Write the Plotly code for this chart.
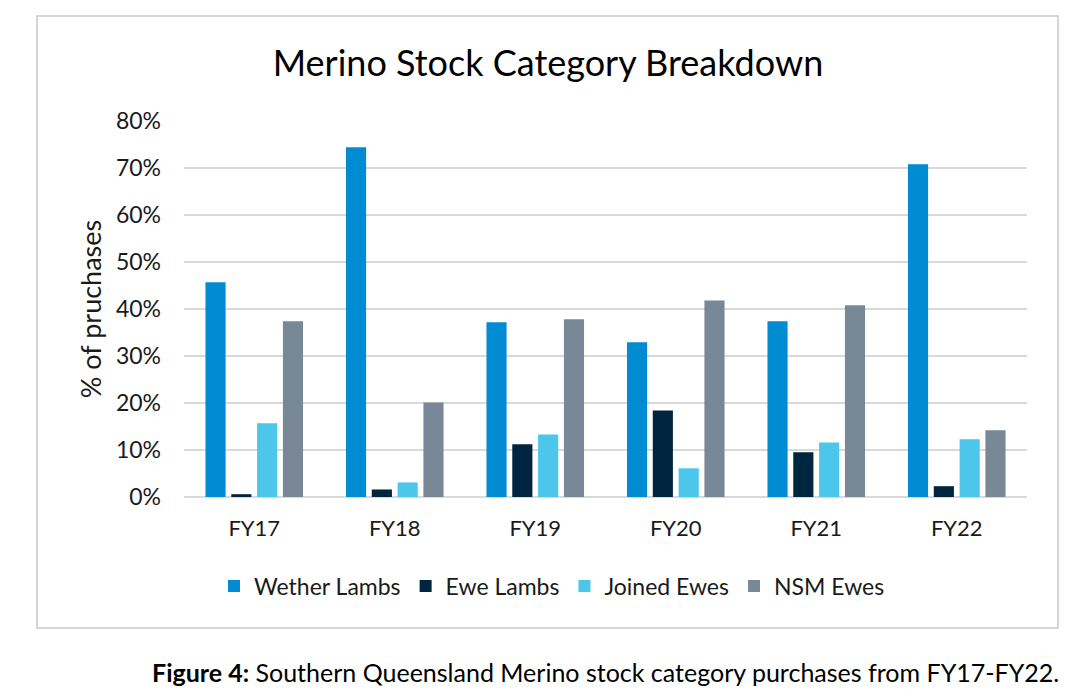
import plotly.graph_objects as go

categories = ["FY17", "FY18", "FY19", "FY20", "FY21", "FY22"]
wether_lambs = [45.7, 74.4, 37.2, 32.9, 37.4, 70.8]
ewe_lambs = [0.6, 1.6, 11.2, 18.4, 9.5, 2.3]
joined_ewes = [15.7, 3.1, 13.3, 6.1, 11.6, 12.3]
nsm_ewes = [37.4, 20.1, 37.8, 41.8, 40.8, 14.2]
y_ticks = [0, 10, 20, 30, 40, 50, 60, 70, 80]

series = [
    ("Wether Lambs", wether_lambs, "#008BD2"),
    ("Ewe Lambs", ewe_lambs, "#002541"),
    ("Joined Ewes", joined_ewes, "#4CC6EA"),
    ("NSM Ewes", nsm_ewes, "#788896"),
]

FONT = "Lato, 'Open Sans', sans-serif"

fig = go.Figure()
for name, vals, color in series:
    fig.add_trace(go.Bar(
        x=categories, y=vals, name=name,
        marker=dict(color=color, line=dict(width=0)),
    ))

# page has an 8px body margin; work in page pixels and shift
OFF = 8
W, H = 1088 - 2 * OFF, 697 - 2 * OFF
PL, PR, PT, PB = 184, 1027, 121, 497  # plot area in page pixels
L, T = PL - OFF, PT - OFF
R, B = W - (PR - OFF), H - (PB - OFF)
pw, ph = W - L - R, H - T - B

def px(x):
    return (x - OFF - L) / pw

def py(y):
    return (H - B - (y - OFF)) / ph

def cx(x):
    return (x - OFF) / W

def cy(y):
    return 1 - (y - OFF) / H

fig.update_layout(
    width=W, height=H,
    margin=dict(l=L, r=R, t=T, b=B),
    paper_bgcolor="white", plot_bgcolor="white",
    font=dict(family=FONT, color="#1a1a1a", size=22),
    barmode="group", bargap=0.265, bargroupgap=0.22,
    title=dict(text="Merino Stock Category Breakdown", x=cx(548), xanchor="center",
               xref="container", y=cy(63), yanchor="middle", yref="container",
               font=dict(size=36, family=FONT, color="#000000")),
    legend=dict(orientation="h", x=cx(552), xanchor="center", xref="container",
                y=cy(586), yanchor="middle", yref="container",
                font=dict(size=23, family=FONT), traceorder="normal",
                itemwidth=30),
    showlegend=True,
)
fig.update_xaxes(showgrid=False, showline=False, ticks="", tickfont=dict(size=22),
                 ticklabelstandoff=16)
fig.update_yaxes(range=[0, 80], tickvals=y_ticks, ticktext=[f"{v}%" for v in y_ticks],
                 showgrid=True, gridcolor="#D9D9D9", gridwidth=1.5,
                 zeroline=True, zerolinecolor="#D9D9D9", zerolinewidth=1.5,
                 showline=False, ticks="", tickfont=dict(size=23), ticklabelstandoff=22,
                 title=dict(text="% of pruchases", font=dict(size=27), standoff=6))

# chart frame
fig.add_shape(type="rect", xref="paper", yref="paper",
              x0=px(37), x1=px(1058), y0=py(628), y1=py(16),
              line=dict(color="#D6D6D6", width=2), fillcolor="rgba(0,0,0,0)", layer="below")

fig.add_annotation(text="<b>Figure 4:</b> Southern Queensland Merino stock category purchases from FY17-FY22.",
                   xref="paper", yref="paper", x=px(605), y=py(672), xanchor="center", yanchor="middle",
                   showarrow=False, font=dict(size=25, family=FONT, color="#000000"))

fig.write_html("out.html")
